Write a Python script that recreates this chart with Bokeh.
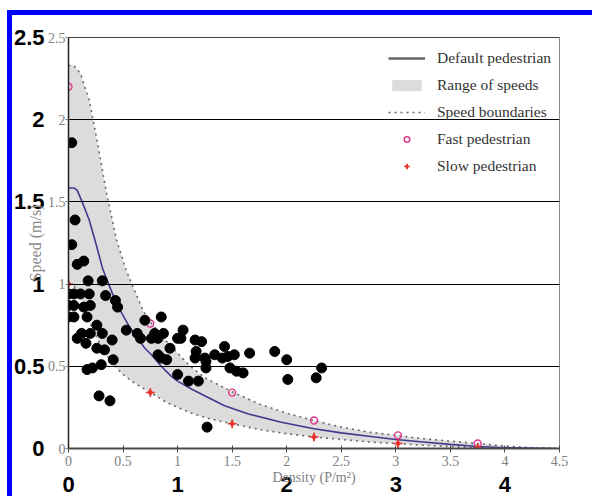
import math
from bokeh.plotting import figure
from bokeh.models import (LinearAxis, FixedTicker, Legend, LegendItem, Range1d)
from bokeh.embed import file_html
from bokeh.resources import INLINE

# ---------------- data ----------------
default_density = [0, 0.05, 0.08, 0.125, 0.19, 0.25, 0.31, 0.35, 0.41, 0.49, 0.55, 0.61,
                   0.7, 0.76, 0.85, 0.94, 1.0, 1.13, 1.28, 1.43, 1.65, 1.95, 2.25, 2.5,
                   2.75, 3.0, 3.25, 3.5, 3.75, 4.0, 4.47]
default_speed = [1.585, 1.585, 1.57, 1.50, 1.39, 1.25, 1.10, 1.03, 0.93, 0.82, 0.75, 0.69,
                 0.61, 0.57, 0.50, 0.44, 0.41, 0.36, 0.31, 0.26, 0.21, 0.16, 0.12, 0.095,
                 0.075, 0.055, 0.04, 0.025, 0.012, 0.005, 0.0]

upper_density = [0, 0.05, 0.11, 0.19, 0.26, 0.35, 0.44, 0.52, 0.58, 0.69, 0.75, 0.9, 1.0,
                 1.1, 1.25, 1.5, 1.75, 2.0, 2.25, 2.5, 2.75, 3.0, 3.25, 3.5, 3.75, 4.0,
                 4.25, 4.47]
upper_speed = [2.33, 2.33, 2.28, 2.12, 1.88, 1.55, 1.27, 1.10, 1.00, 0.83, 0.77, 0.65, 0.58,
               0.51, 0.43, 0.345, 0.27, 0.215, 0.17, 0.13, 0.10, 0.08, 0.06, 0.045, 0.03,
               0.015, 0.005, 0.0]

lower_density = [0, 0.05, 0.1, 0.2, 0.3, 0.4, 0.5, 0.6, 0.75, 0.9, 1.0, 1.15, 1.3, 1.5,
                 1.75, 2.0, 2.25, 2.5, 2.75, 3.0, 3.25, 3.5, 3.75, 4.0, 4.47]
lower_speed = [1.0, 0.99, 0.93, 0.76, 0.62, 0.52, 0.45, 0.40, 0.34, 0.28, 0.25, 0.21, 0.18,
               0.15, 0.115, 0.09, 0.07, 0.055, 0.04, 0.03, 0.02, 0.012, 0.005, 0.0, 0.0]

fast_density = [0, 0.75, 1.5, 2.25, 3.02, 3.75]
fast_speed = [2.20, 0.76, 0.34, 0.17, 0.08, 0.03]

slow_density = [0, 0.75, 1.5, 2.25, 3.02, 3.75]
slow_speed = [1.0, 0.34, 0.15, 0.07, 0.03, 0.005]

obs_density = [0.03, 0.06, 0.03, 0.08, 0.14, 0.18, 0.31, 0.00, 0.05, 0.11, 0.19, 0.34,
               0.43, 0.45, 0.00, 0.05, 0.14, 0.20, 0.00, 0.05, 0.17, 0.26, 0.08, 0.12,
               0.16, 0.20, 0.31, 0.40, 0.26, 0.33, 0.41, 0.30, 0.17, 0.22, 0.28, 0.38,
               0.53, 0.63, 0.66, 0.70, 0.85, 0.76, 0.79, 0.82, 0.87, 0.93, 1.00, 1.03,
               1.05, 0.82, 0.85, 0.90, 1.00, 1.16, 1.22, 1.17, 1.16, 1.25, 1.26, 1.34,
               1.43, 1.41, 1.46, 1.52, 1.48, 1.54, 1.60, 1.66, 1.26, 1.10, 1.19, 1.27,
               1.89, 2.00, 2.01, 2.27, 2.32]
obs_speed = [1.86, 1.39, 1.24, 1.12, 1.14, 1.02, 1.02, 0.94, 0.94, 0.94, 0.94, 0.93,
             0.90, 0.86, 0.87, 0.87, 0.86, 0.87, 0.80, 0.80, 0.80, 0.75, 0.67, 0.70,
             0.64, 0.70, 0.70, 0.66, 0.61, 0.60, 0.54, 0.51, 0.48, 0.49, 0.32, 0.29,
             0.72, 0.70, 0.67, 0.78, 0.80, 0.67, 0.70, 0.67, 0.70, 0.61, 0.67, 0.67,
             0.72, 0.57, 0.55, 0.54, 0.45, 0.66, 0.65, 0.59, 0.55, 0.55, 0.53, 0.57,
             0.62, 0.55, 0.56, 0.57, 0.49, 0.47, 0.46, 0.58, 0.49, 0.41, 0.41, 0.13,
             0.59, 0.54, 0.42, 0.43, 0.49]

x_ticks_small = [0, 0.5, 1, 1.5, 2, 2.5, 3, 3.5, 4, 4.5]
x_labels_small = ["0", "0.5", "1", "1.5", "2", "2.5", "3", "3.5", "4", "4.5"]
x_ticks_big = [0, 1, 2, 3, 4]
x_labels_big = ["0", "1", "2", "3", "4"]
y_ticks = [0, 0.5, 1, 1.5, 2, 2.5]
y_labels = ["0", "0.5", "1", "1.5", "2", "2.5"]
grid_y = [0.5, 1, 1.5, 2, 2.5]

# ---------------- figure ----------------
# element box 585x486 at (7, 10) with a blue top/left border; canvas drawn at (12, 15)
p = figure(width=585, height=486, x_range=Range1d(0, 4.5), y_range=Range1d(0, 2.5),
           output_backend="svg", toolbar_location=None,
           x_axis_location=None, y_axis_location=None,
           min_border_left=56, min_border_right=38, min_border_top=22, min_border_bottom=53)
p.margin = (10, 0, 0, 7)
p.styles = {"border-left": "5px solid #0000ff", "border-top": "5px solid #0000ff"}
p.grid.visible = False
p.outline_line_color = "#888888"
p.outline_line_width = 1
p.background_fill_color = "white"
p.border_fill_color = "white"

band_x = upper_density + lower_density[::-1]
band_y = upper_speed + lower_speed[::-1]
r_band = p.patch(band_x, band_y, fill_color="#dcdcdc", line_color=None)
dash = "2 4"
r_upper = p.line(upper_density, upper_speed, line_color="#6a6a6a", line_width=1.6,
                 line_dash=dash)
p.line(lower_density, lower_speed, line_color="#6a6a6a", line_width=1.6, line_dash=dash)
p.line(default_density, default_speed, line_color="#3f3a8e", line_width=1.6)

r_fast = p.scatter(fast_density, fast_speed, marker="circle", size=7, fill_color=None,
                   line_color="#e0388c", line_width=1.4)
r_slow1 = p.scatter(slow_density, slow_speed, marker="diamond", size=8,
                    fill_color="#e8362e", line_color=None)
r_slow2 = p.scatter(slow_density, slow_speed, marker="cross", size=9,
                    line_color="#e8362e", line_width=1.5)

p.hspan(y=grid_y, line_color="black", line_width=1)

p.scatter(obs_density, obs_speed, marker="circle", size=10, fill_color="black",
          line_color="black")

# legend-only sample (grey line, as in the original legend)
nan = float("nan")
r_leg_line = p.line(x=[nan, nan], y=[nan, nan], line_color="#666666", line_width=2.5)

legend = Legend(items=[
    LegendItem(label="Default pedestrian", renderers=[r_leg_line]),
    LegendItem(label="Range of speeds", renderers=[r_band]),
    LegendItem(label="Speed boundaries", renderers=[r_upper]),
    LegendItem(label="Fast pedestrian", renderers=[r_fast]),
    LegendItem(label="Slow pedestrian", renderers=[r_slow1, r_slow2]),
], location=(320, 273), orientation="vertical")
legend.background_fill_alpha = 0
legend.border_line_color = None
legend.padding = 5
legend.margin = 0
legend.spacing = 9
legend.glyph_width = 37
legend.glyph_height = 14
legend.label_height = 14
legend.label_standoff = 12
legend.label_text_font = "Liberation Serif"
legend.label_text_font_size = "15.5px"
legend.label_text_color = "#333333"
p.add_layout(legend)

# ---------------- axes ----------------
ax_x_small = LinearAxis(ticker=FixedTicker(ticks=x_ticks_small),
                        major_label_overrides=dict(zip(x_ticks_small, x_labels_small)))
ax_x_small.major_label_text_font = "Liberation Serif"
ax_x_small.major_label_text_font_size = "14px"
ax_x_small.major_label_text_color = "#808080"
ax_x_small.axis_line_color = "#4a4a4a"
ax_x_small.axis_line_width = 2
ax_x_small.major_tick_in = 3
ax_x_small.major_tick_out = 4
ax_x_small.major_tick_line_color = "#4a4a4a"
ax_x_small.minor_tick_line_color = None
ax_x_small.major_label_standoff = 3
p.add_layout(ax_x_small, "below")

ax_x_big = LinearAxis(ticker=FixedTicker(ticks=x_ticks_big),
                      major_label_overrides=dict(zip(x_ticks_big, x_labels_big)),
                      axis_label="Density (P/m²)")
ax_x_big.major_label_text_font = "Liberation Sans"
ax_x_big.major_label_text_font_style = "bold"
ax_x_big.major_label_text_font_size = "22px"
ax_x_big.major_label_text_color = "black"
ax_x_big.axis_line_color = None
ax_x_big.major_tick_line_color = None
ax_x_big.minor_tick_line_color = None
ax_x_big.major_tick_in = 0
ax_x_big.major_tick_out = 0
ax_x_big.major_label_standoff = 8
ax_x_big.axis_label_text_font = "Liberation Serif"
ax_x_big.axis_label_text_font_style = "normal"
ax_x_big.axis_label_text_font_size = "14px"
ax_x_big.axis_label_text_color = "#808080"
ax_x_big.axis_label_standoff = -25
p.add_layout(ax_x_big, "below")

ax_y_small = LinearAxis(ticker=FixedTicker(ticks=y_ticks),
                        major_label_overrides=dict(zip(y_ticks, y_labels)))
ax_y_small.major_label_text_font = "Liberation Serif"
ax_y_small.major_label_text_font_size = "14px"
ax_y_small.major_label_text_color = "#808080"
ax_y_small.axis_line_color = "#222222"
ax_y_small.axis_line_width = 1.5
ax_y_small.major_tick_in = 0
ax_y_small.major_tick_out = 3
ax_y_small.major_tick_line_color = "#808080"
ax_y_small.minor_tick_line_color = None
ax_y_small.major_label_standoff = 0
p.add_layout(ax_y_small, "left")

ax_y_big = LinearAxis(ticker=FixedTicker(ticks=y_ticks),
                      major_label_overrides=dict(zip(y_ticks, y_labels)),
                      axis_label="Speed (m/s)")
ax_y_big.major_label_text_font = "Liberation Sans"
ax_y_big.major_label_text_font_style = "bold"
ax_y_big.major_label_text_font_size = "22px"
ax_y_big.major_label_text_color = "black"
ax_y_big.axis_line_color = None
ax_y_big.major_tick_line_color = None
ax_y_big.minor_tick_line_color = None
ax_y_big.major_tick_in = 0
ax_y_big.major_tick_out = 0
ax_y_big.major_label_standoff = 0
ax_y_big.axis_label_text_font = "Liberation Serif"
ax_y_big.axis_label_text_font_style = "normal"
ax_y_big.axis_label_text_font_size = "16px"
ax_y_big.axis_label_text_color = "#8a8a8a"
ax_y_big.axis_label_standoff = -33
p.add_layout(ax_y_big, "left")

open("out.html", "w").write(file_html(p, INLINE))
